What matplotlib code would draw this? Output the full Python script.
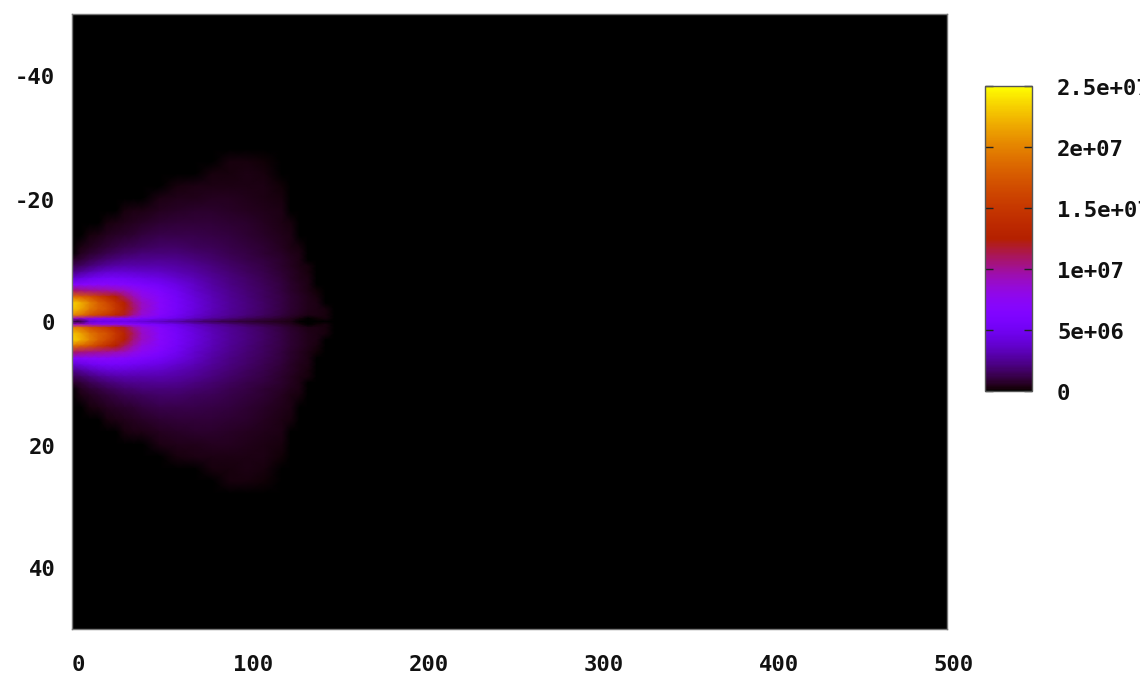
import numpy as np
import matplotlib
matplotlib.use("Agg")
import matplotlib.pyplot as plt
from matplotlib.colors import ListedColormap
from matplotlib.transforms import ScaledTranslation

x_vals = [0, 5, 10, 15, 20, 25, 30, 35, 40, 50, 60, 70, 80, 90, 100, 110, 120, 125, 130, 135, 140, 145, 150]
y_abs = [0, 0.5, 1, 2, 3, 4, 5, 6, 7, 8, 9, 10, 11, 12, 14, 16, 18, 20, 22, 24, 26, 28]

# in units of 1e6, upper and lower half look the same
z_half = [
    [1, 1, 4, 4.5, 4.5, 4.5, 4.5, 4.2, 4, 3.4, 2.8, 2.0, 1.4, 1.0, 0.8, 0.6, 0.4, 0.3, 0, 0, 0, 0, 0],
    [9, 9, 8.5, 8, 7.5, 7.5, 7, 7, 6.5, 5.6, 4.6, 3.5, 2.7, 2.1, 1.5, 1.1, 0.7, 0.5, 0.2, 0, 0.1, 0.2, 0],
    [20, 19, 17, 16, 15, 13.5, 12, 10, 8.5, 6.8, 5.2, 4, 3.1, 2.5, 2, 1.5, 1, 0.7, 0.5, 0.35, 0.3, 0.2, 0],
    [23, 21.5, 19.5, 18, 17, 15, 13, 11, 9, 7, 5.5, 4.2, 3.3, 2.6, 2.1, 1.6, 1.1, 0.8, 0.6, 0.45, 0.3, 0.2, 0],
    [23.5, 22, 20, 18, 16.5, 14.5, 12.5, 10.5, 9, 7, 5.5, 4.2, 3.3, 2.6, 2.1, 1.6, 1.1, 0.8, 0.6, 0.45, 0.3, 0, 0],
    [19, 18, 17, 15.5, 14, 12.5, 11, 9.5, 8.2, 6.8, 5.3, 4.1, 3.2, 2.5, 2, 1.5, 1.1, 0.8, 0.6, 0.4, 0.2, 0, 0],
    [11, 10.5, 10.2, 10, 9.8, 9.4, 9, 8.2, 7.4, 6.2, 4.9, 3.8, 3, 2.4, 1.9, 1.5, 1, 0.7, 0.5, 0.35, 0.1, 0, 0],
    [6.5, 6.8, 7, 7, 7, 6.8, 6.6, 6.3, 6, 5.3, 4.4, 3.6, 2.8, 2.2, 1.8, 1.4, 1, 0.7, 0.5, 0.3, 0, 0, 0],
    [3.8, 4.3, 4.8, 5.2, 5.4, 5.4, 5.3, 5, 4.8, 4.4, 3.8, 3.2, 2.6, 2.1, 1.7, 1.3, 0.9, 0.65, 0.45, 0.3, 0, 0, 0],
    [2.2, 2.7, 3.2, 3.6, 3.9, 4, 4, 3.9, 3.8, 3.6, 3.2, 2.8, 2.3, 1.9, 1.5, 1.2, 0.85, 0.6, 0.4, 0.25, 0, 0, 0],
    [1.3, 1.6, 2, 2.4, 2.7, 2.9, 3, 3, 3, 3, 2.8, 2.5, 2.1, 1.7, 1.4, 1.1, 0.75, 0.55, 0.35, 0.2, 0, 0, 0],
    [0.6, 0.9, 1.3, 1.6, 1.9, 2.1, 2.3, 2.4, 2.4, 2.5, 2.4, 2.1, 1.8, 1.5, 1.25, 1, 0.7, 0.5, 0.35, 0, 0, 0, 0],
    [0, 0.5, 0.8, 1, 1.3, 1.5, 1.7, 1.8, 2, 2, 2, 1.8, 1.6, 1.35, 1.1, 0.85, 0.6, 0.4, 0.3, 0, 0, 0, 0],
    [0, 0.3, 0.5, 0.7, 0.9, 1.1, 1.3, 1.4, 1.5, 1.7, 1.7, 1.55, 1.4, 1.2, 1, 0.8, 0.55, 0.35, 0.2, 0, 0, 0, 0],
    [0, 0, 0.25, 0.35, 0.5, 0.6, 0.75, 0.85, 1, 1.2, 1.25, 1.2, 1.1, 1, 0.85, 0.65, 0.45, 0.3, 0, 0, 0, 0, 0],
    [0, 0, 0, 0, 0.25, 0.3, 0.4, 0.5, 0.6, 0.8, 0.9, 0.95, 0.9, 0.8, 0.7, 0.55, 0.35, 0.2, 0, 0, 0, 0, 0],
    [0, 0, 0, 0, 0, 0, 0.2, 0.3, 0.35, 0.5, 0.6, 0.7, 0.7, 0.65, 0.55, 0.45, 0.3, 0, 0, 0, 0, 0, 0],
    [0, 0, 0, 0, 0, 0, 0, 0, 0, 0.3, 0.4, 0.45, 0.5, 0.5, 0.45, 0.35, 0.2, 0, 0, 0, 0, 0, 0],
    [0, 0, 0, 0, 0, 0, 0, 0, 0, 0, 0.2, 0.3, 0.35, 0.35, 0.35, 0.3, 0.1, 0, 0, 0, 0, 0, 0],
    [0, 0, 0, 0, 0, 0, 0, 0, 0, 0, 0, 0, 0.2, 0.25, 0.3, 0.2, 0, 0, 0, 0, 0, 0, 0],
    [0, 0, 0, 0, 0, 0, 0, 0, 0, 0, 0, 0, 0, 0.2, 0.22, 0.12, 0, 0, 0, 0, 0, 0, 0],
    [0, 0, 0, 0, 0, 0, 0, 0, 0, 0, 0, 0, 0, 0, 0, 0, 0, 0, 0, 0, 0, 0, 0],
]

x_ticks = [0, 100, 200, 300, 400, 500]
y_ticks = [-40, -20, 0, 20, 40]
cb_ticks = [0, 5e6, 1e7, 1.5e7, 2e7, 2.5e7]
cb_labels = ["0", "5e+06", "1e+07", "1.5e+07", "2e+07", "2.5e+07"]

W, H = 1140, 677
FONT = dict(family="DejaVu Sans Mono", fontweight="bold", fontsize=16, color="#111111")

# gnuplot's default pm3d palette (rgbformulae 7,5,15)
t = np.linspace(0, 1, 256)
pm3d = ListedColormap(np.c_[np.sqrt(t), t ** 3, np.clip(np.sin(2 * np.pi * t), 0, 1)])

z = np.array(z_half) * 1e6
z_full = np.vstack([z[::-1], z[1:]])
y_full = np.r_[-np.array(y_abs)[::-1], np.array(y_abs)[1:]]

fig = plt.figure(figsize=(W / 100, H / 100), dpi=100)
ax = fig.add_axes([72 / W, 1 - 629 / H, (947 - 72) / W, (629 - 14) / H], facecolor="black")
mesh = ax.pcolormesh(x_vals, y_full, z_full, cmap=pm3d, vmin=0, vmax=2.5e7, shading="gouraud")
ax.set_xlim(0, 500)
ax.set_ylim(50, -50)
ax.set_xticks(x_ticks)
ax.set_yticks(y_ticks)
ax.tick_params(axis="x", length=0, pad=19)
ax.tick_params(axis="y", length=0, pad=12)
for s in ax.spines.values():
    s.set_color("#777777")
    s.set_linewidth(1)
ax.set_xticklabels([str(v) for v in x_ticks], **FONT)
ax.set_yticklabels([str(v) for v in y_ticks], **FONT)
for lab in ax.get_xticklabels():
    lab.set_transform(lab.get_transform() + ScaledTranslation(6.5 / 100, 0, fig.dpi_scale_trans))
for lab in ax.get_yticklabels():
    lab.set_transform(lab.get_transform() + ScaledTranslation(0, -1 / 100, fig.dpi_scale_trans))

cax = fig.add_axes([985 / W, 1 - 391 / H, (1032 - 985) / W, (391 - 86) / H])
cb = fig.colorbar(mesh, cax=cax)
cb.set_ticks(cb_ticks)
cb.set_ticklabels(cb_labels, **FONT)
cb.outline.set_edgecolor("#555555")
cb.outline.set_linewidth(1)
cax.tick_params(axis="y", direction="in", left=True, right=True, length=6, width=1, color="#222222", pad=18)
for lab in cax.get_yticklabels():
    lab.set_transform(lab.get_transform() + ScaledTranslation(0, -1 / 100, fig.dpi_scale_trans))

fig.savefig("out.png", dpi=100)
